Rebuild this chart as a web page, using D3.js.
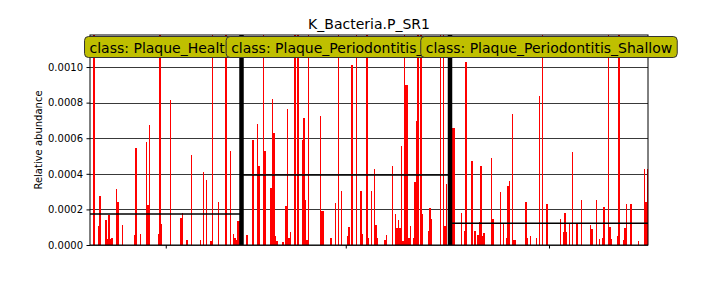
<!DOCTYPE html>
<html>
<head>
<meta charset="utf-8">
<script src="https://cdn.jsdelivr.net/npm/d3@7"></script>
<style>
  body { margin: 0; background: white; }
  svg { font-family: "DejaVu Sans", sans-serif; }
</style>
</head>
<body>
<div id="canvas"></div>
<script>
var w = 720;
var h = 288;

var title = "K_Bacteria.P_SR1";
var classNames = ["Plaque_Healthy", "Plaque_Periodontitis_Deep", "Plaque_Periodontitis_Shallow"];
var yTicks = [0, 0.0002, 0.0004, 0.0006, 0.0008, 0.0010];

// one value per sample, in sample order
var healthy = [
  0, 0, 0.0021, 0, 0, 0.000107, 0.000275, 0, 0, 0,
  0.00014, 0.000034, 0.000169, 0.000034, 0.00004, 0, 0, 0.000315, 0.000242, 0,
  0, 0.000112, 0, 0, 0, 0, 0, 0, 0, 0.000056,
  0.000545, 0, 0, 0.000062, 0, 0, 0, 0.000579, 0.000225, 0.000674,
  0, 0, 0, 0, 0, 0.000062, 0.0035, 0.000118, 0, 0,
  0, 0, 0, 0.000815, 0, 0, 0, 0, 0, 0,
  0.000152, 0.00018, 0, 0, 0.000028, 0, 0, 0.000506, 0, 0,
  0, 0, 0, 0.00003, 0, 0.00041, 0, 0.000365, 0, 0,
  0.00002, 0.0024, 0, 0, 0, 0.000242, 0, 0, 0, 0,
  0.0021, 0, 0, 0.000528, 0, 0.00006, 0.00004, 0.00003, 0.000135, 0.000135,
  0
];
var deep = [
  0, 0, 0, 0.000056, 0, 0, 0, 0.00059, 0, 0,
  0.00068, 0.000444, 0, 0, 0.0022, 0.000528, 0, 0, 0, 0.00032,
  0.00082, 0.00063, 0.00005, 0.00002, 0, 0, 0, 0.000015, 0, 0.00022,
  0.000764, 0.00004, 0.000073, 0, 0, 0.0025, 0, 0.0019, 0, 0,
  0.00059, 0.000713, 0.000253, 0.00003, 0.0028, 0, 0, 0, 0, 0,
  0, 0, 0.000725, 0.000191, 0.000191, 0, 0, 0, 0, 0.00004,
  0, 0, 0.000236, 0, 0.0021, 0, 0.000303, 0, 0, 0,
  0.00005, 0.0001, 0, 0.00101, 0, 0, 0.0024, 0, 0, 0.000303,
  0.00006, 0, 0, 0.003, 0.00004, 0, 0.000303, 0, 0.000427, 0.000112,
  0.00004, 0, 0, 0, 0, 0.00003, 0.000056, 0, 0, 0,
  0.000444, 0, 0.000174, 0.000096, 0.00014, 0.000096, 0.000556, 0.00002, 0.0065, 0.0009,
  0.0009, 0.00004, 0.000107, 0, 0.00004, 0.000354, 0.000697, 0.0026, 0, 0.0023,
  0.000174, 0, 0, 0, 0.000079, 0.000208, 0.000146, 0, 0, 0,
  0, 0, 0.0052, 0, 0.0045, 0.000107, 0.000343, 0, 0
];
var shallow = [
  0, 0.00066, 0.00066, 0, 0, 0, 0, 0.00018, 0, 0.000079,
  0.00103, 0, 0, 0, 0.000472, 0, 0.000079, 0, 0.000056, 0.000129,
  0.000444, 0.00005, 0.000068, 0, 0, 0, 0, 0.000489, 0.000146, 0,
  0, 0, 0, 0.000298, 0, 0.000118, 0, 0.00004, 0.000331, 0.00036,
  0, 0.000736, 0.00003, 0.00003, 0, 0, 0, 0, 0, 0,
  0.000242, 0.00004, 0, 0.00005, 0, 0, 0, 0.00004, 0, 0.000837,
  0, 0.0013, 0, 0, 0.00023, 0, 0, 0, 0, 0,
  0, 0, 0, 0.000146, 0, 0.000073, 0.00018, 0.000073, 0, 0.000118,
  0, 0.000522, 0, 0, 0.000118, 0, 0, 0.000253, 0, 0,
  0, 0, 0, 0.000112, 0.00009, 0, 0, 0.000253, 0, 0.000034,
  0, 0.00004, 0.000213, 0, 0, 0.0014, 0.0001, 0.000034, 0, 0,
  0, 0.00005, 0.0014, 0, 0, 0.000028, 0.000096, 0.00023, 0, 0,
  0.00023, 0, 0, 0, 0, 0.000022, 0, 0, 0, 0.000427,
  0.000242, 0.000427
];

var groups = [healthy, deep, shallow];

// flatten to samples with a running index
var samples = [];
var classInfo = [];
groups.forEach(function(vals, ci){
  var start = samples.length;
  vals.forEach(function(v){
    samples.push({i: samples.length, v: v, c: ci});
  });
  classInfo.push({name: classNames[ci], start: start, end: samples.length, mean: d3.mean(vals)});
});

var pLeft = 90, pRight = 648, pTop = 35, pBottom = 245;

var svg = d3.select("#canvas").append("svg")
  .attr("width", w)
  .attr("height", h)
  .style("background-color", "white");

var xScale = d3.scaleLinear()
  .domain([0, samples.length])
  .range([pLeft, pRight]);

var yScale = d3.scaleLinear()
  .domain([0, 0.00118])
  .range([pBottom, pTop]);

svg.append("clipPath").attr("id", "plotclip")
  .append("rect")
  .attr("x", pLeft).attr("y", pTop)
  .attr("width", pRight - pLeft).attr("height", pBottom - pTop);

// grid
svg.selectAll(".grid")
  .data(yTicks)
  .join("line")
  .attr("class", "grid")
  .attr("x1", pLeft).attr("x2", pRight)
  .attr("y1", function(d){ return Math.round(yScale(d)) + 0.5; })
  .attr("y2", function(d){ return Math.round(yScale(d)) + 0.5; })
  .attr("stroke", "#222")
  .attr("stroke-width", 0.9);

var plot = svg.append("g").attr("clip-path", "url(#plotclip)");

plot.selectAll(".bar")
  .data(samples.filter(function(d){ return d.v > 0; }))
  .join("rect")
  .attr("class", "bar")
  .attr("x", function(d){ return xScale(d.i); })
  .attr("y", function(d){ return yScale(d.v); })
  .attr("width", xScale(1) - xScale(0))
  .attr("height", function(d){ return yScale(0) - yScale(d.v); })
  .attr("fill", "red")
  .attr("shape-rendering", "crispEdges");

// class means
plot.selectAll(".mean")
  .data(classInfo)
  .join("line")
  .attr("class", "mean")
  .attr("x1", function(d){ return xScale(d.start); })
  .attr("x2", function(d){ return xScale(d.end); })
  .attr("y1", function(d){ return yScale(d.mean); })
  .attr("y2", function(d){ return yScale(d.mean); })
  .attr("stroke", "black")
  .attr("stroke-width", 1.5);

// class separators
plot.selectAll(".sep")
  .data(classInfo.slice(1))
  .join("line")
  .attr("class", "sep")
  .attr("x1", function(d){ return xScale(d.start); })
  .attr("x2", function(d){ return xScale(d.start); })
  .attr("y1", pTop).attr("y2", pBottom)
  .attr("stroke", "black")
  .attr("stroke-width", 4.5);

// axes
var yAxis = d3.axisLeft(yScale)
  .tickValues(yTicks)
  .tickFormat(d3.format(".4f"))
  .tickSize(3.5)
  .tickPadding(3.5);
var gy = svg.append("g")
  .attr("transform", "translate(" + pLeft + ",0)")
  .call(yAxis);
gy.select(".domain").remove();
gy.selectAll("text").attr("font-size", 10).attr("fill", "black")
  .attr("font-family", "DejaVu Sans");

var xAxis = d3.axisBottom(xScale)
  .tickValues(classInfo.map(function(d){ return (d.start + d.end) / 2; }))
  .tickFormat("")
  .tickSize(3.5);
var gx = svg.append("g")
  .attr("transform", "translate(0," + pBottom + ")")
  .call(xAxis);
gx.select(".domain").remove();

svg.append("rect")
  .attr("x", pLeft).attr("y", pTop)
  .attr("width", pRight - pLeft).attr("height", pBottom - pTop)
  .attr("fill", "none")
  .attr("stroke", "black")
  .attr("stroke-width", 1);

svg.append("text")
  .attr("x", (pLeft + pRight) / 2)
  .attr("y", 29)
  .attr("text-anchor", "middle")
  .attr("font-size", 14)
  .text(title);

svg.append("text")
  .attr("transform", "translate(42," + (pTop + pBottom) / 2 + ") rotate(-90)")
  .attr("text-anchor", "middle")
  .attr("font-size", 10)
  .text("Relative abundance");

// class labels, later ones drawn on top
classInfo.forEach(function(d){
  var g = svg.append("g");
  var cx = xScale((d.start + d.end) / 2);
  var rect = g.append("rect");
  var t = g.append("text")
    .attr("x", cx)
    .attr("y", 53)
    .attr("text-anchor", "middle")
    .attr("font-size", 14)
    .attr("fill", "black")
    .text("class: " + d.name);
  var bb = t.node().getBBox();
  rect.attr("x", bb.x - 5)
    .attr("y", 36.5)
    .attr("width", bb.width + 10)
    .attr("height", 21)
    .attr("rx", 4)
    .attr("fill", "#bfbf00")
    .attr("stroke", "#333")
    .attr("stroke-width", 1);
});
</script>
</body>
</html>
